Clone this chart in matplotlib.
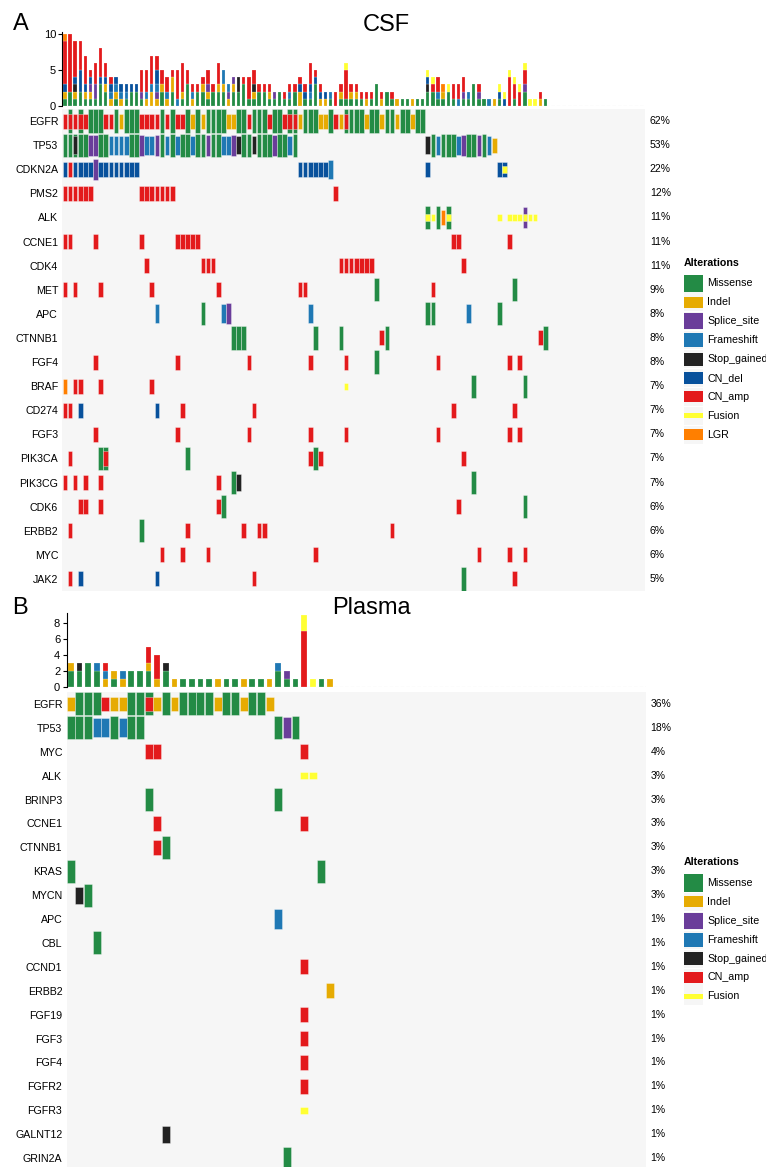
import matplotlib
matplotlib.use("Agg")
import matplotlib.pyplot as plt
from matplotlib.patches import Rectangle

plt.rcParams["font.family"] = ["Liberation Sans", "DejaVu Sans"]

W, H = 766, 1167

# alteration types, legend order (also stacking / drawing order)
ALTER_TYPES = ["Missense", "Indel", "Splice_site", "Frameshift", "Stop_gained",
               "CN_del", "CN_amp", "Fusion", "LGR"]
CODES = ["M", "I", "S", "F", "X", "D", "A", "U", "L"]
COLORS = ["#238B45", "#E6AB02", "#6A3D9A", "#1F78B4", "#222222",
          "#08519C", "#E31A1C", "#FFFF33", "#FF7F00"]
CELL_H = [0.96, 0.62, 0.88, 0.80, 0.72, 0.62, 0.62, 0.30, 0.62]
BG = "#F6F6F6"

# ---- CSF ----
CSF_NCOLS = 114
CSF_GENES = ["EGFR", "TP53", "CDKN2A", "PMS2", "ALK", "CCNE1", "CDK4", "MET", "APC",
             "CTNNB1", "FGF4", "BRAF", "CD274", "FGF3", "PIK3CA", "PIK3CG", "CDK6",
             "ERBB2", "MYC", "JAK2"]
CSF_PCT = ["62%", "53%", "22%", "12%", "11%", "11%", "11%", "9%", "8%", "8%",
           "8%", "7%", "7%", "7%", "7%", "7%", "6%", "6%", "6%", "5%"]
# "col+codes" tokens per gene
CSF_ALTS = [
    "0A 1MA 2A 3MA 4A 5M 6M 7M 8A 9A 10M 11I 12M 13M 14M 15A 16A 17A 18A 19M 20A "
    "21M 22A 23A 24M 25I 26M 27I 28M 29M 30M 31M 32I 33I 34M 35M 36A 37M 38M 39M "
    "40A 41M 42M 43A 44MA 45MA 46I 47M 48M 49M 50I 51I 52M 53A 54I 55MA 56M 57M "
    "58M 59I 60M 61M 62I 63M 64M 65I 66M 67M 68I 69M 70M",
    "0M 1M 2MX 3M 4M 5S 6S 7M 8M 9F 10F 11F 12F 13M 14M 15S 16F 17F 18S 19M 20F "
    "21M 22F 23M 24M 25F 26M 27M 28S 29M 30M 31F 32F 33S 34X 35M 36M 37X 38M 39M "
    "40M 41S 42M 43M 44F 45M 71X 72M 73F 74M 75M 76M 77F 78S 79M 80M 81S 82M 83F 84I",
    "0D 1A 2D 3D 4D 5D 6S 7D 8D 9D 10D 11D 12D 13D 14D 46D 47D 48D 49D 50D 51D "
    "52F 71D 85D 86DU",
    "0A 1A 2A 3A 4A 5A 15A 16A 17A 18A 19A 20A 21A 53A",
    "71MU 72U 73M 74L 75MU 85U 87U 88U 89U 90SU 91U 92U",
    "0A 1A 6A 15A 22A 23A 24A 25A 26A 76A 77A 87A",
    "16A 27A 28A 29A 54A 55A 56A 57A 58A 59A 60A 78A",
    "0A 2A 7A 17A 30A 46A 47A 61M 72A 88M",
    "18F 27M 31F 32S 48F 71M 72M 79F 85M",
    "33M 34M 35M 49M 54M 62A 63M 93A 94M",
    "6A 22A 36A 48A 55A 61M 73A 87A 89A",
    "0L 2A 3A 7A 17A 55U 80M 90M",
    "0A 1A 3D 18D 23A 37A 76A 88A",
    "6A 22A 36A 48A 55A 73A 87A 89A",
    "1A 7M 8MA 24M 48A 49M 50A 78A",
    "0A 2A 4A 7A 30A 33M 34X 80M",
    "3A 4A 7A 30A 31M 77A 90M",
    "1A 15M 24A 35A 38A 39A 64A",
    "19A 23A 28A 49A 81A 87A 90A",
    "1A 3D 18D 37A 78M 88A",
]
# alterations in genes not shown, counted in the top barplot only
CSF_EXTRA = ("0I 2I 4I 5I 8I 9I 10I 16I 17II 18I 19I 20I 21II 23I 28I 30I 31I "
             "37I 40I 46I 56I 57I 74I 81M 90A 93I")

# ---- Plasma ----
PL_NCOLS = 67
PL_GENES = ["EGFR", "TP53", "MYC", "ALK", "BRINP3", "CCNE1", "CTNNB1", "KRAS", "MYCN",
            "APC", "CBL", "CCND1", "ERBB2", "FGF19", "FGF3", "FGF4", "FGFR2", "FGFR3",
            "GALNT12", "GRIN2A"]
PL_PCT = ["36%", "18%", "4%", "3%", "3%", "3%", "3%", "3%", "3%", "1%",
          "1%", "1%", "1%", "1%", "1%", "1%", "1%", "1%", "1%", "1%"]
PL_ALTS = [
    "0I 1M 2M 3M 4A 5I 6I 7M 8M 9MA 10I 11M 12I 13M 14M 15M 16M 17I 18M 19M 20I "
    "21M 22M 23I",
    "0M 1M 2M 3F 4F 5M 6F 7M 8M 24M 25S 26M",
    "9A 10A 27A",
    "27U 28U",
    "9M 24M",
    "10A 27A",
    "10A 11M",
    "0M 29M",
    "1X 2M",
    "24F",
    "3M",
    "27A",
    "30I",
    "27A",
    "27A",
    "27A",
    "27A",
    "27U",
    "11X",
    "25M",
]
PL_EXTRA = "4I 9I"

CSF_LEGEND = ALTER_TYPES
PL_LEGEND = ["Missense", "Indel", "Splice_site", "Frameshift", "Stop_gained",
             "CN_amp", "Fusion"]


def parse(tokens):
    out = []
    for tok in tokens.split():
        i = 0
        while tok[i].isdigit():
            i += 1
        out.append((int(tok[:i]), tok[i:]))
    return out


def sample_totals(alts, extra, ncols):
    cols = [""] * ncols
    for row in alts + [extra]:
        for c, codes in parse(row):
            cols[c] += codes
    return cols


def px_axes(fig, left, top, right, bottom):
    return fig.add_axes([left / W, 1 - bottom / H, (right - left) / W, (bottom - top) / H])


def draw_bars(ax, bars, ncols, ymax, yticks):
    for i, s in enumerate(bars):
        base = 0
        for k, code in enumerate(CODES):
            n = s.count(code)
            if n:
                ax.bar(i + 0.5, n, bottom=base, width=0.66, color=COLORS[k],
                       edgecolor=(1, 1, 1, 0.5), linewidth=0.3)
                base += n
    ax.axhline(0, color="#cccccc", lw=0.8, ls=(0, (3, 2)), zorder=0)
    ax.set_xlim(0, ncols)
    ax.set_ylim(0, ymax)
    ax.set_yticks(yticks)
    ax.tick_params(axis="y", labelsize=8, length=3, width=0.8, pad=1.5)
    ax.set_xticks([])
    for side in ["top", "right", "bottom"]:
        ax.spines[side].set_visible(False)
    ax.spines["left"].set_linewidth(0.8)
    ax.patch.set_alpha(0)


def draw_grid(ax, genes, pct, alts, ncols):
    n = len(genes)
    ax.set_facecolor(BG)
    for r, row in enumerate(alts):
        for c, codes in parse(row):
            for k, code in enumerate(CODES):
                if code in codes:
                    h = CELL_H[k]
                    ax.add_patch(Rectangle((c + 0.04, r + (1 - h) / 2), 0.92, h,
                                           facecolor=COLORS[k], edgecolor=(1, 1, 1, 0.6),
                                           linewidth=0.4))
    ax.set_xlim(0, ncols)
    ax.set_ylim(n, 0)
    ax.set_yticks([r + 0.5 for r in range(n)])
    ax.set_yticklabels(genes, fontsize=7.7)
    ax.tick_params(axis="y", length=0, pad=3)
    ax.set_xticks([])
    for side in ax.spines:
        ax.spines[side].set_visible(False)
    for r, p in enumerate(pct):
        ax.annotate(p, xy=(1, r + 0.5), xycoords=("axes fraction", "data"),
                    xytext=(3.5, 0), textcoords="offset points", va="center",
                    ha="left", fontsize=7.5)


def draw_legend(fig, top, labels):
    ax = px_axes(fig, 676, top - 12, 766, top + 20 + 19 * len(labels))
    ax.set_xlim(676, 766)
    ax.set_ylim(top + 20 + 19 * len(labels), top - 12)
    ax.axis("off")
    ax.text(684, top, "Alterations", fontsize=7.7, fontweight="bold", va="center")
    for j, lab in enumerate(labels):
        k = ALTER_TYPES.index(lab)
        yc = top + 21 + 18.9 * j
        ax.add_patch(Rectangle((684, yc - 9), 19, 18, facecolor=BG, edgecolor="none"))
        h = 18 * CELL_H[k]
        ax.add_patch(Rectangle((684, yc - h / 2), 19, h, facecolor=COLORS[k],
                               edgecolor="none"))
        ax.text(707, yc, lab, fontsize=7.7, va="center")


fig = plt.figure(figsize=(W / 100, H / 100), dpi=100)

# panel A: CSF
ax_b = px_axes(fig, 62.3, 106 - 7.2 * 10.3, 645, 106)
draw_bars(ax_b, sample_totals(CSF_ALTS, CSF_EXTRA, CSF_NCOLS), CSF_NCOLS, 10.3, [0, 5, 10])
ax_g = px_axes(fig, 62.3, 109, 645, 591)
draw_grid(ax_g, CSF_GENES, CSF_PCT, CSF_ALTS, CSF_NCOLS)
draw_legend(fig, 262.5, CSF_LEGEND)
fig.text(21 / W, 1 - 24 / H, "A", fontsize=17, ha="center", va="center")
fig.text(386 / W, 1 - 25 / H, "CSF", fontsize=17, ha="center", va="center")

# panel B: Plasma
ax_b2 = px_axes(fig, 66.5, 687.3 - 8 * 9.3, 645.5, 687.3)
draw_bars(ax_b2, sample_totals(PL_ALTS, PL_EXTRA, PL_NCOLS), PL_NCOLS, 9.3, [0, 2, 4, 6, 8])
ax_g2 = px_axes(fig, 66.5, 692, 645.5, 1170)
draw_grid(ax_g2, PL_GENES, PL_PCT, PL_ALTS, PL_NCOLS)
draw_legend(fig, 862, PL_LEGEND)
fig.text(20 / W, 1 - 608 / H, "B", fontsize=17, ha="center", va="center")
fig.text(371 / W, 1 - 608 / H, "Plasma", fontsize=17, ha="center", va="center")

fig.savefig("out.png", dpi=100)
